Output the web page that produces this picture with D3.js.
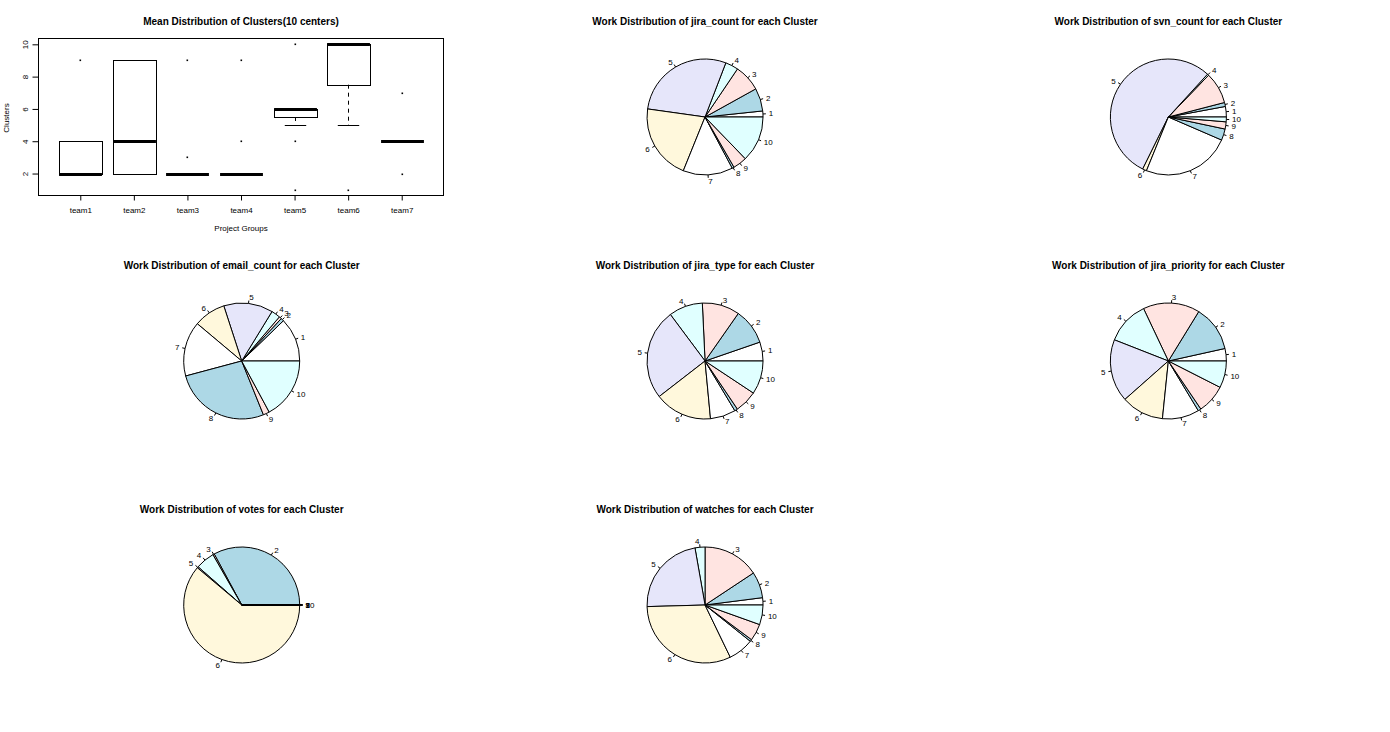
<!DOCTYPE html>
<html><head><meta charset="utf-8">
<script src="https://cdn.jsdelivr.net/npm/d3@7"></script>
<style>
body{margin:0;background:#fff}
svg{display:block;font-family:"Liberation Sans",Arial,sans-serif}
</style>
</head><body>
<svg id="chart" width="1390" height="732"></svg>
<script>
// ---------- Boxplot data ----------
const teams = ["team1","team2","team3","team4","team5","team6","team7"];
const whiskerLow  = [2, 2, 2, 2, 5,   5,   4];
const q1          = [2, 2, 2, 2, 5.5, 7.5, 4];
const medians     = [2, 4, 2, 2, 6,   10,  4];
const q3          = [4, 9, 2, 2, 6,   10,  4];
const whiskerHigh = [4, 9, 2, 2, 6,   10,  4];
const outliers    = [[9], [], [9,3], [9,4], [10,4,1], [1], [7,2]];
const yTicks = [2,4,6,8,10];

// ---------- Pie data (share of each cluster) ----------
const clusterLabels = ["1","2","3","4","5","6","7","8","9","10"];
const pieColors = ["white","lightblue","mistyrose","lightcyan","lavender","cornsilk"];
const jiraCount    = [6, 23, 27, 13, 103, 76, 50, 2, 14, 46];
const svnCount     = [10.5, 4, 31.6, 1.5, 196.2, 4.1, 88.8, 11.4, 7.2, 4.8];
const emailCount   = [44, 3, 2.5, 9, 49.5, 32, 55, 97, 6.3, 61.7];
const jiraType     = [19, 36, 37.6, 34, 91, 57.6, 25.5, 3, 22.5, 33.5];
const jiraPriority = [12.5, 46, 57, 43.3, 63, 42.7, 37, 3, 29, 27];
const votes        = [0.3, 118, 1.5, 19, 1.2, 220, 0, 0, 0, 0];
const watches      = [7.3, 26.2, 56.5, 10, 81.6, 114.2, 25.5, 2, 17, 19.7];
const pieNames = ["jira_count","svn_count","email_count","jira_type","jira_priority","votes","watches"];
const pieSeries = [jiraCount, svnCount, emailCount, jiraType, jiraPriority, votes, watches];

const svg = d3.select("#chart");
const W = 1390, H = 732, cols = 3, rows = 3;
const pw = W / cols, ph = H / rows;

// ---------- Panel 1: boxplot ----------
const bx = d3.scaleLinear().domain([0.22, 7.78]).range([38.5, 443.5]);
const by = d3.scaleLinear().domain([0.64, 10.36]).range([195.5, 38.5]);
const g0 = svg.append("g");
g0.append("text").attr("x", 241).attr("y", 24.5).attr("text-anchor","middle")
  .attr("font-size", 10).attr("font-weight","bold").text("Mean Distribution of Clusters(10 centers)");

const boxW = bx(1.8) - bx(1);
const stapleW = boxW / 2;
teams.forEach((t, i) => {
  const cx = Math.round(bx(i + 1)) + 0.5;
  const gb = g0.append("g").attr("fill","none").attr("stroke","#000");
  // whiskers
  if (whiskerLow[i] < q1[i]) gb.append("line").attr("x1",cx).attr("x2",cx).attr("y1",by(q1[i])).attr("y2",by(whiskerLow[i])).attr("stroke-dasharray","4,4");
  if (whiskerHigh[i] > q3[i]) gb.append("line").attr("x1",cx).attr("x2",cx).attr("y1",by(q3[i])).attr("y2",by(whiskerHigh[i])).attr("stroke-dasharray","4,4");
  // staples
  [whiskerLow[i], whiskerHigh[i]].forEach(v => {
    const yy = Math.round(by(v)) + 0.5;
    gb.append("line").attr("x1",cx - stapleW/2).attr("x2",cx + stapleW/2).attr("y1",yy).attr("y2",yy);
  });
  // box
  const yTop = Math.round(by(q3[i])) + 0.5, yBot = Math.round(by(q1[i])) + 0.5;
  gb.append("rect").attr("x", Math.round(cx - boxW/2) + 0.5).attr("y", yTop).attr("width", Math.round(boxW)).attr("height", yBot - yTop);
  // median
  const ym = Math.round(by(medians[i])) + 0.5;
  gb.append("line").attr("x1",cx - boxW/2).attr("x2",cx + boxW/2).attr("y1",ym).attr("y2",ym).attr("stroke-width",3);
  // outliers
  outliers[i].forEach(v => {
    g0.append("rect").attr("x", cx - 1).attr("y", Math.round(by(v)) - 0.5).attr("width",1.6).attr("height",1.6).attr("fill","#000");
  });
});
// frame
g0.append("rect").attr("x", 38.5).attr("y", 38.5).attr("width", 405).attr("height", 157)
  .attr("fill","none").attr("stroke","#000");
// y axis
const yAx = g0.append("g").attr("transform","translate(38.5,0)")
  .call(d3.axisLeft(by).tickValues(yTicks).tickSize(6).tickSizeOuter(0).tickFormat(d3.format("d")));
yAx.select(".domain").remove();
yAx.selectAll("text").attr("x", null).attr("dy", null)
  .attr("text-anchor","middle").attr("font-size",8).attr("fill","#000")
  .attr("transform","translate(-11,0) rotate(-90)").attr("font-family","Liberation Sans, Arial, sans-serif");
// x axis
const xAx = g0.append("g").attr("transform","translate(0,195.5)")
  .call(d3.axisBottom(bx).tickValues(d3.range(1, teams.length + 1)).tickSize(5).tickSizeOuter(0).tickPadding(7).tickFormat(d => teams[d-1]));
xAx.select(".domain").remove();
xAx.selectAll("text").attr("font-size",8).attr("fill","#000").attr("font-family","Liberation Sans, Arial, sans-serif");
g0.append("text").attr("x", 241).attr("y", 231).attr("text-anchor","middle").attr("font-size",8).text("Project Groups");
g0.append("text").attr("transform","translate(9,118) rotate(-90)").attr("text-anchor","middle").attr("font-size",8).text("Clusters");

// ---------- Pies ----------
const R = 58;
const pie = d3.pie().sort(null).value(d => d).startAngle(Math.PI/2).endAngle(Math.PI/2 - 2*Math.PI);
const arc = d3.arc().innerRadius(0).outerRadius(R);
pieSeries.forEach((vals, k) => {
  const idx = k + 1;
  const col = idx % cols, row = Math.floor(idx / cols);
  const cx = col * pw + 241.7, cy = row * ph + 117;
  const g = svg.append("g");
  g.append("text").attr("x", cx).attr("y", row * ph + 24.5).attr("text-anchor","middle")
    .attr("font-size",10).attr("font-weight","bold")
    .text("Work Distribution of " + pieNames[k] + " for each Cluster");
  const gp = g.append("g").attr("transform", `translate(${cx},${cy})`);
  const arcs = pie(vals);
  gp.selectAll("path").data(arcs).join("path")
    .attr("d", arc)
    .attr("fill", (d, i) => pieColors[i % pieColors.length])
    .attr("stroke","#000").attr("stroke-width",1);
  arcs.forEach((d, i) => {
    const m = (d.startAngle + d.endAngle) / 2;
    const ux = Math.sin(m), uy = -Math.cos(m);
    gp.append("line").attr("x1", ux*R).attr("y1", uy*R).attr("x2", ux*R*1.05).attr("y2", uy*R*1.05).attr("stroke","#000");
    gp.append("text").attr("x", ux*R*1.1).attr("y", uy*R*1.1).attr("dy","0.35em")
      .attr("text-anchor", ux < 0 ? "end" : "start").attr("font-size",8)
      .text(clusterLabels[i]);
  });
});
</script>
</body></html>
